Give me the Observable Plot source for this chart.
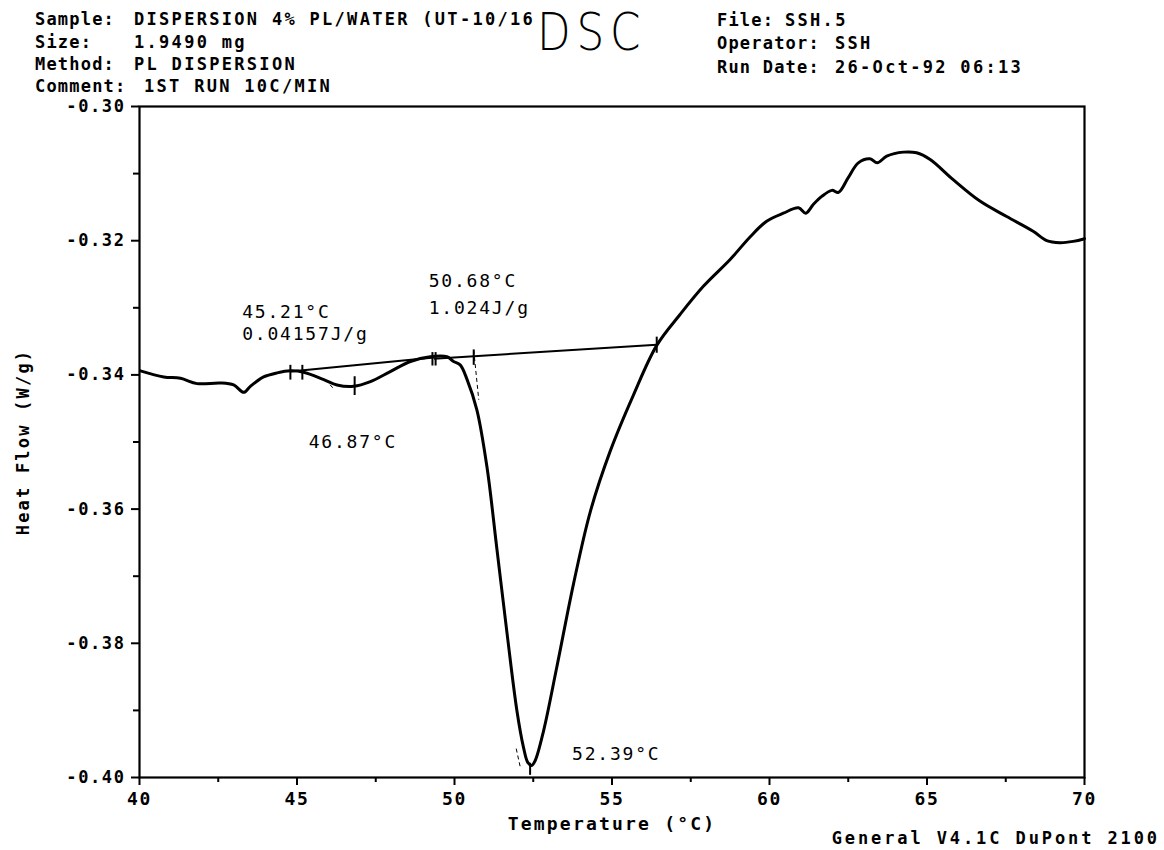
<!DOCTYPE html>
<html>
<head>
<meta charset="utf-8">
<script src="https://cdn.jsdelivr.net/npm/d3@7"></script>
<script src="https://cdn.jsdelivr.net/npm/@observablehq/plot@0.6"></script>
<style>
  html, body { margin: 0; padding: 0; background: #fff; }
  #wrap { position: relative; width: 1164px; height: 850px; overflow: hidden; background: #fff; }
  .hd { position: absolute; font-family: "DejaVu Sans Mono", monospace; font-weight: bold; font-size: 17px; line-height: 20px; color: #000; white-space: pre; }
  .lab { letter-spacing: 1.2px; }
  .val { letter-spacing: 2.3px; }
  .foot { letter-spacing: 2.9px; }
  #title { position: absolute; left: 537px; top: 2px; font-family: "DejaVu Sans", sans-serif; font-weight: 200; font-size: 52px; line-height: 60px; letter-spacing: 7px; transform: scaleX(0.84); transform-origin: left top; color: #000; }
  #chart { position: absolute; left: 0; top: 0; }
  #chart svg text { letter-spacing: 1.6px; }
  #chart g[aria-label="y-axis label"] text, #chart g[aria-label="x-axis label"] text { letter-spacing: 2.2px; }
  #chart g[aria-label="text"] text { letter-spacing: 1.8px; }
</style>
</head>
<body>
<div id="wrap">
  <div id="chart"></div>
  <div class="hd lab" style="left:35px;top:9px">Sample:</div>
  <div class="hd val" style="left:134px;top:9px">DISPERSION 4% PL/WATER (UT-10/16</div>
  <div class="hd lab" style="left:35px;top:32px">Size:</div>
  <div class="hd val" style="left:134px;top:32px">1.9490 mg</div>
  <div class="hd lab" style="left:35px;top:54px">Method:</div>
  <div class="hd val" style="left:134px;top:54px">PL DISPERSION</div>
  <div class="hd lab" style="left:35px;top:76px">Comment:</div>
  <div class="hd val" style="left:144px;top:76px">1ST RUN 10C/MIN</div>
  <div id="title">DSC</div>
  <div class="hd lab" style="left:717px;top:10px">File:</div>
  <div class="hd val" style="left:785px;top:10px">SSH.5</div>
  <div class="hd lab" style="left:717px;top:33px">Operator:</div>
  <div class="hd val" style="left:835px;top:33px">SSH</div>
  <div class="hd lab" style="left:717px;top:57px">Run Date:</div>
  <div class="hd val" style="left:835px;top:57px">26-Oct-92 06:13</div>
  <div class="hd foot" style="right:4px;top:828px">General V4.1C DuPont 2100</div>
</div>
<script>
// Temperature (°C) and heat flow (W/g)
const temps = [40.03, 40.77, 41.30, 41.83, 42.57, 42.99, 43.31, 43.52, 43.94, 44.37,
  44.79, 45.21, 45.85, 46.27, 46.80, 47.33, 47.96, 48.60, 49.23, 49.76,
  49.97, 50.18, 50.40, 50.71, 51.03, 51.35, 51.67, 51.98, 52.19, 52.33,
  52.45, 52.56, 52.83, 53.25, 53.78, 54.31, 54.94, 55.68, 56.42, 57.16,
  57.90, 58.75, 59.39, 59.91, 60.44, 60.92, 61.15, 61.39, 61.66, 61.98,
  62.19, 62.50, 62.82, 63.19, 63.42, 63.72, 64.25, 64.67, 65.10, 65.83,
  66.68, 67.53, 68.37, 68.80, 69.22, 69.64, 70.00];
const heatFlow = [-0.3394, -0.3403, -0.3405, -0.3413, -0.3412, -0.3415, -0.3426, -0.3417, -0.3403, -0.3397,
  -0.3394, -0.3396, -0.3407, -0.3415, -0.3417, -0.3410, -0.3395, -0.3380, -0.3373, -0.3373,
  -0.3380, -0.3385, -0.3407, -0.3452, -0.3537, -0.3661, -0.3786, -0.3900, -0.3955, -0.3978,
  -0.3982, -0.3975, -0.3930, -0.3835, -0.3711, -0.3604, -0.3514, -0.3430, -0.3356, -0.3310,
  -0.3268, -0.3228, -0.3194, -0.3171, -0.3159, -0.3151, -0.3159, -0.3146, -0.3134, -0.3125,
  -0.3128, -0.3106, -0.3084, -0.3078, -0.3084, -0.3074, -0.3068, -0.3069, -0.3079, -0.3109,
  -0.3141, -0.3164, -0.3186, -0.3200, -0.3203, -0.3201, -0.3197];

// Integration baselines
const baseT1 = [44.79, 49.35];
const baseV1 = [-0.3395, -0.3376];
const baseT2 = [49.35, 56.42];
const baseV2 = [-0.3374, -0.3355];

// Short vertical limit / peak markers
const markT = [44.79, 45.17, 46.83, 49.30, 49.40, 50.61, 52.40, 56.42];
const markLo = [-0.3407, -0.3407, -0.3430, -0.3386, -0.3386, -0.3385, -0.3996, -0.3367];
const markHi = [-0.3385, -0.3385, -0.3402, -0.3366, -0.3366, -0.3362, -0.3978, -0.3343];

// Thin dashed tangent construction lines
const tanT1 = [50.61, 45.90, 51.96];
const tanV1 = [-0.3363, -0.3407, -0.3957];
const tanT2 = [50.77, 46.19, 52.09];
const tanV2 = [-0.3437, -0.3422, -0.3985];

// Annotation labels
const labelText = ["45.21°C", "0.04157J/g", "50.68°C", "1.024J/g", "46.87°C", "52.39°C"];
const labelT = [43.26, 43.26, 49.18, 49.18, 45.37, 53.73];
const labelV = [-0.3306, -0.3340, -0.3261, -0.3300, -0.3501, -0.3965];

// Axis ticks
const xMajor = [40, 45, 50, 55, 60, 65, 70];
const xMinor = [42.5, 47.5, 52.5, 57.5, 62.5, 67.5];
const yMajor = [-0.30, -0.32, -0.34, -0.36, -0.38, -0.40];
const yMinor = [-0.31, -0.33, -0.35, -0.37, -0.39];

const curve = temps.map((t, i) => ({t, v: heatFlow[i]}));
const idx = (a) => a.map((_, i) => i);

const plot = Plot.plot({
  width: 1164,
  height: 850,
  marginLeft: 139,
  marginRight: 80,
  marginTop: 106,
  marginBottom: 73,
  style: {fontFamily: "DejaVu Sans Mono", fontSize: "17px", color: "#000", background: "#fff"},
  x: {domain: [40, 70]},
  y: {domain: [-0.40, -0.30]},
  marks: [
    Plot.axisY(yMinor, {tickSize: 6, tickFormat: () => "", label: null, strokeWidth: 2}),
    Plot.axisX(xMinor, {tickSize: 5, tickFormat: () => "", label: null, strokeWidth: 2}),
    Plot.axisY(yMajor, {tickSize: 8, tickPadding: 6, tickFormat: d => d.toFixed(2), fontWeight: "bold", fontSize: 17,
      strokeWidth: 2, label: "Heat Flow (W/g)", labelAnchor: "center", labelOffset: 123, labelArrow: "none"}),
    Plot.axisX(xMajor, {tickSize: 8, tickPadding: 7, tickFormat: d => String(d), fontWeight: "bold", fontSize: 18,
      strokeWidth: 2, label: "Temperature (°C)", labelAnchor: "center", labelOffset: 52, labelArrow: "none"}),
    Plot.frame({stroke: "#000", strokeWidth: 2.2}),
    Plot.link(idx(baseT1), {x1: i => baseT1[i], y1: i => baseV1[i], x2: i => baseT2[i], y2: i => baseV2[i], stroke: "#000", strokeWidth: 2}),
    Plot.link(idx(tanT1), {x1: i => tanT1[i], y1: i => tanV1[i], x2: i => tanT2[i], y2: i => tanV2[i], stroke: "#000", strokeWidth: 1, strokeDasharray: "4,3"}),
    Plot.link(idx(markT), {x1: i => markT[i], y1: i => markLo[i], x2: i => markT[i], y2: i => markHi[i], stroke: "#000", strokeWidth: 2}),
    Plot.line(curve, {x: "t", y: "v", stroke: "#000", strokeWidth: 3, curve: "catmull-rom"}),
    Plot.text(idx(labelText), {x: i => labelT[i], y: i => labelV[i], text: i => labelText[i], textAnchor: "start",
      fontSize: 18, fontFamily: "DejaVu Sans Mono", fill: "#000"})
  ]
});
document.getElementById("chart").appendChild(plot);
</script>
</body>
</html>
